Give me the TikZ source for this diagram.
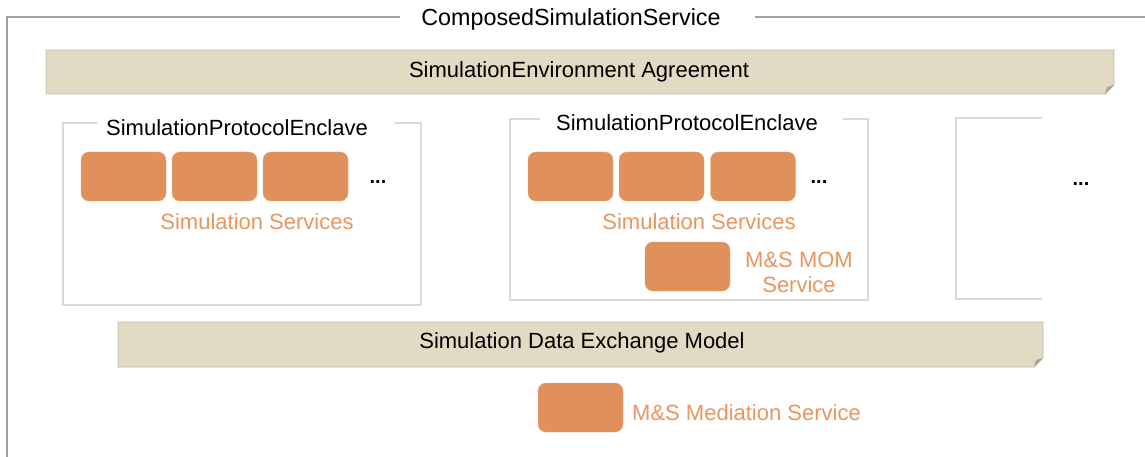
\documentclass[tikz,border=0pt]{standalone}
\usepackage{fontspec}
\setmainfont{Liberation Sans}
\definecolor{tanfill}{HTML}{E2DAC3}
\definecolor{tanline}{HTML}{BDB8AA}
\definecolor{foldc}{HTML}{A8A49A}
\definecolor{svcfill}{HTML}{E0915B}
\definecolor{svctext}{HTML}{E8955E}
\definecolor{outerc}{HTML}{A0A0A0}
\definecolor{enclc}{HTML}{D9D9D9}
\tikzset{
  x=1pt,y=-1pt,
  txt/.style={font=\fontsize{22}{25.5}\selectfont, inner sep=0pt},
  svc/.style={fill=svcfill, draw=svcfill!80!white, rounded corners=8pt, minimum width=85pt, minimum height=49pt, inner sep=0pt},
  svclabel/.style={txt, text=svctext, align=center},
  dotsnode/.style={font=\fontsize{20}{24}\selectfont\bfseries, inner sep=0pt},
  enclframe/.style={draw=enclc, line width=1.2pt},
  barlabel/.style={txt, text=black},
}
\begin{document}
\begin{tikzpicture}
\useasboundingbox (0,0) rectangle (1145,457);
% outer frame
\node[barlabel, font=\fontsize{23.3}{27}\selectfont] (title) at (571,19.5) {ComposedSimulationService};
\draw[outerc, line width=1.3pt] (400,17) -- (7,17) -- (7,457);
\draw[outerc, line width=1.3pt] (755,17) -- (1145,17);
% agreement bar
\fill[tanfill] (46,50) -- (1114,50) -- (1114,85) -- (1105,94) -- (46,94) -- cycle;
\draw[tanline, line width=0.9pt] (46,50) -- (1114,50) -- (1114,85) -- (1105,94) -- (46,94) -- cycle;
\fill[foldc] (1105,94) -- (1114,85) -- (1107,87) -- cycle;
\node[barlabel] (agree) at (579,71.5) {SimulationEnvironment Agreement};
% enclave 1
\node[barlabel] (e1t) at (237,128) {SimulationProtocolEnclave};
\draw[enclframe] (97,123) -- (63,123) -- (63,305) -- (421,305) -- (421,123) -- (395,123);
\node[svc] (s11) at (123.5,176.5) {};
\node[svc] (s12) at (214.5,176.5) {};
\node[svc] (s13) at (305.5,176.5) {};
\node[dotsnode] (d1) at (378,182) {...};
\node[svclabel] (l1) at (257,221.5) {Simulation Services};
% enclave 2
\node[barlabel] (e2t) at (687,122.5) {SimulationProtocolEnclave};
\draw[enclframe] (540,119) -- (510,119) -- (510,300) -- (868,300) -- (868,119) -- (843,119);
\node[svc] (s21) at (570.5,176.5) {};
\node[svc] (s22) at (661.5,176.5) {};
\node[svc] (s23) at (753,176.5) {};
\node[dotsnode] (d2) at (819,182) {...};
\node[svclabel] (l2) at (699,221.5) {Simulation Services};
\node[svc] (mom) at (687.5,266.5) {};
\node[svclabel] (moml) at (799,272) {M\&S MOM\\[-0.5pt]Service};
% enclave 3
\draw[enclframe] (1042,118) -- (956,118) -- (956,299) -- (1042,299);
\node[dotsnode] (d3) at (1081,184) {...};
% data exchange model bar
\fill[tanfill] (118,322) -- (1043,322) -- (1043,358) -- (1034,367) -- (118,367) -- cycle;
\draw[tanline, line width=0.9pt] (118,322) -- (1043,322) -- (1043,358) -- (1034,367) -- (118,367) -- cycle;
\fill[foldc] (1034,367) -- (1043,358) -- (1036,360) -- cycle;
\node[barlabel] (dem) at (582,343) {Simulation Data Exchange Model};
% mediation
\node[svc] (med) at (580.5,407.5) {};
\node[svclabel, anchor=west] (medl) at (632,413) {M\&S Mediation Service};
\end{tikzpicture}
\end{document}
